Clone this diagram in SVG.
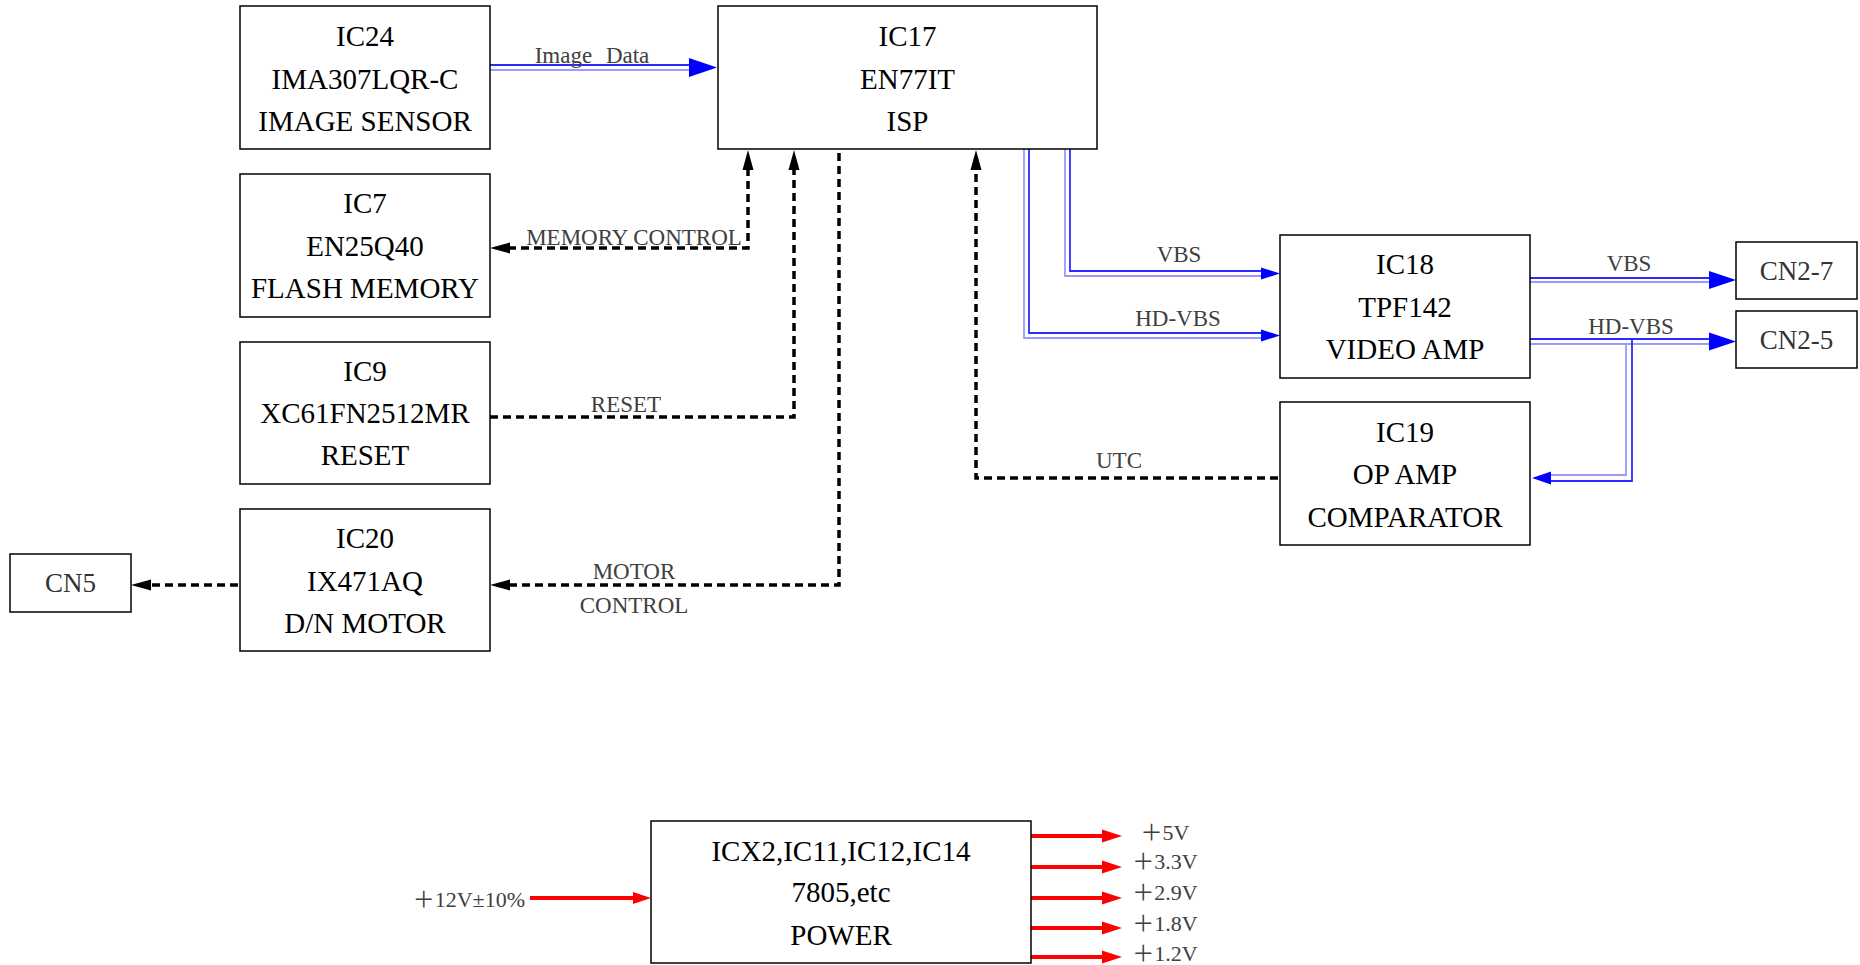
<svg xmlns="http://www.w3.org/2000/svg" width="1860" height="965" viewBox="0 0 1860 965">
<style>
.box{fill:#fff;stroke:#000;stroke-width:1.5}
.t{font-family:"Liberation Serif",serif;font-size:29px;fill:#000;text-anchor:middle}
.cn{font-family:"Liberation Serif",serif;font-size:27px;fill:#333;text-anchor:middle}
.lb{font-family:"Liberation Serif",serif;font-size:23px;fill:#404040;text-anchor:middle}
.pw{font-family:"Liberation Serif","Noto Sans CJK KR",serif;font-size:22px;fill:#404040}
.dash{fill:none;stroke:#000;stroke-width:3.5;stroke-dasharray:8 5}
.ak{fill:#000}
.bd{fill:none;stroke:#2b2bff;stroke-width:1.8}
.bl{fill:none;stroke:#9a9aff;stroke-width:1.8}
.ab{fill:#0000ff}
.red{fill:none;stroke:#ff0000;stroke-width:4}
.ar{fill:#ff0000}
</style>
<rect width="1860" height="965" fill="#fff"/>

<g id="connectors">
  <!-- Image Data -->
  <path class="bd" d="M490,65 H691"/>
  <path class="bl" d="M490,70 H691"/>
  <polygon class="ab" points="717,67.5 689,58 689,77"/>
  <text class="lb" x="592" y="63" style="word-spacing:8px">Image Data</text>

  <!-- VBS IC17 -> IC18 -->
  <path class="bd" d="M1070,149 V271 H1263"/>
  <path class="bl" d="M1065,149 V276 H1263"/>
  <polygon class="ab" points="1280,273.5 1261,267.5 1261,279.5"/>
  <text class="lb" x="1179" y="262">VBS</text>

  <!-- HD-VBS IC17 -> IC18 -->
  <path class="bd" d="M1029,149 V333 H1263"/>
  <path class="bl" d="M1024,149 V338 H1263"/>
  <polygon class="ab" points="1280,335.5 1261,329.5 1261,341.5"/>
  <text class="lb" x="1178" y="326">HD-VBS</text>

  <!-- VBS IC18 -> CN2-7 -->
  <path class="bd" d="M1530,278 H1711"/>
  <path class="bl" d="M1530,282 H1711"/>
  <polygon class="ab" points="1736,280 1709,271 1709,289"/>
  <text class="lb" x="1629" y="271">VBS</text>

  <!-- HD-VBS IC18 -> CN2-5 -->
  <path class="bd" d="M1530,339 H1711"/>
  <path class="bl" d="M1530,344 H1711"/>
  <polygon class="ab" points="1736,341.5 1709,332.5 1709,350.5"/>
  <text class="lb" x="1631" y="334">HD-VBS</text>

  <!-- HD-VBS branch -> IC19 -->
  <path class="bd" d="M1632,339 V481 H1549"/>
  <path class="bl" d="M1626,344 V475 H1549"/>
  <polygon class="ab" points="1532,478 1551,471.5 1551,484.5"/>

  <!-- MEMORY CONTROL -->
  <path class="dash" d="M748,168 V248 H508"/>
  <polygon class="ak" points="748,150 742.5,170 753.5,170"/>
  <polygon class="ak" points="490,248 510,242.5 510,253.5"/>
  <text class="lb" x="634" y="245">MEMORY CONTROL</text>

  <!-- RESET -->
  <path class="dash" d="M490,417 H794 V168"/>
  <polygon class="ak" points="794,150 788.5,170 799.5,170"/>
  <text class="lb" x="626" y="412">RESET</text>

  <!-- MOTOR CONTROL -->
  <path class="dash" d="M839,153 V585 H508"/>
  <polygon class="ak" points="490,585 510,579.5 510,590.5"/>
  <text class="lb" x="634" y="579">MOTOR</text>
  <text class="lb" x="634" y="613">CONTROL</text>

  <!-- IC20 -> CN5 -->
  <path class="dash" d="M238,585 H149"/>
  <polygon class="ak" points="131,585 151,579.5 151,590.5"/>

  <!-- UTC -->
  <path class="dash" d="M1278,478 H976 V168"/>
  <polygon class="ak" points="976,150 970.5,170 981.5,170"/>
  <text class="lb" x="1119" y="468">UTC</text>

  <!-- Power input -->
  <path class="red" d="M530,898 H635"/>
  <polygon class="ar" points="651,898 633,892 633,904"/>
  <text class="pw" x="525" y="907" text-anchor="end">＋12V±10%</text>

  <!-- Power outputs -->
  <path class="red" d="M1031,836 H1104"/>
  <polygon class="ar" points="1122,836 1102,829.5 1102,842.5"/>
  <path class="red" d="M1031,867 H1104"/>
  <polygon class="ar" points="1122,867 1102,860.5 1102,873.5"/>
  <path class="red" d="M1031,898 H1104"/>
  <polygon class="ar" points="1122,898 1102,891.5 1102,904.5"/>
  <path class="red" d="M1031,928 H1104"/>
  <polygon class="ar" points="1122,928 1102,921.5 1102,934.5"/>
  <path class="red" d="M1031,957 H1104"/>
  <polygon class="ar" points="1122,957 1102,950.5 1102,963.5"/>
  <text class="pw" x="1165" y="840" text-anchor="middle">＋5V</text>
  <text class="pw" x="1165" y="869" text-anchor="middle">＋3.3V</text>
  <text class="pw" x="1165" y="900" text-anchor="middle">＋2.9V</text>
  <text class="pw" x="1165" y="931" text-anchor="middle">＋1.8V</text>
  <text class="pw" x="1165" y="961" text-anchor="middle">＋1.2V</text>
</g>

<g id="IC24">
  <rect class="box" x="240" y="6" width="250" height="143"/>
  <text class="t" x="365" y="46">IC24</text>
  <text class="t" x="365" y="89">IMA307LQR-C</text>
  <text class="t" x="365" y="131">IMAGE SENSOR</text>
</g>
<g id="IC7">
  <rect class="box" x="240" y="174" width="250" height="143"/>
  <text class="t" x="365" y="213">IC7</text>
  <text class="t" x="365" y="256">EN25Q40</text>
  <text class="t" x="365" y="298">FLASH MEMORY</text>
</g>
<g id="IC9">
  <rect class="box" x="240" y="342" width="250" height="142"/>
  <text class="t" x="365" y="381">IC9</text>
  <text class="t" x="365" y="423">XC61FN2512MR</text>
  <text class="t" x="365" y="465">RESET</text>
</g>
<g id="IC20">
  <rect class="box" x="240" y="509" width="250" height="142"/>
  <text class="t" x="365" y="548">IC20</text>
  <text class="t" x="365" y="591">IX471AQ</text>
  <text class="t" x="365" y="633">D/N MOTOR</text>
</g>
<g id="CN5">
  <rect class="box" x="10" y="554" width="121" height="58"/>
  <text class="cn" x="70.5" y="592">CN5</text>
</g>
<g id="IC17">
  <rect class="box" x="718" y="6" width="379" height="143"/>
  <text class="t" x="907.5" y="46">IC17</text>
  <text class="t" x="907.5" y="89">EN77IT</text>
  <text class="t" x="907.5" y="131">ISP</text>
</g>
<g id="IC18">
  <rect class="box" x="1280" y="235" width="250" height="143"/>
  <text class="t" x="1405" y="274">IC18</text>
  <text class="t" x="1405" y="317">TPF142</text>
  <text class="t" x="1405" y="359">VIDEO AMP</text>
</g>
<g id="IC19">
  <rect class="box" x="1280" y="402" width="250" height="143"/>
  <text class="t" x="1405" y="442">IC19</text>
  <text class="t" x="1405" y="484">OP AMP</text>
  <text class="t" x="1405" y="527">COMPARATOR</text>
</g>
<g id="CN2-7">
  <rect class="box" x="1736" y="242" width="121" height="57"/>
  <text class="cn" x="1796.5" y="280">CN2-7</text>
</g>
<g id="CN2-5">
  <rect class="box" x="1736" y="311" width="121" height="57"/>
  <text class="cn" x="1796.5" y="349">CN2-5</text>
</g>
<g id="POWER">
  <rect class="box" x="651" y="821" width="380" height="142"/>
  <text class="t" x="841" y="861">ICX2,IC11,IC12,IC14</text>
  <text class="t" x="841" y="902">7805,etc</text>
  <text class="t" x="841" y="945">POWER</text>
</g>
</svg>
